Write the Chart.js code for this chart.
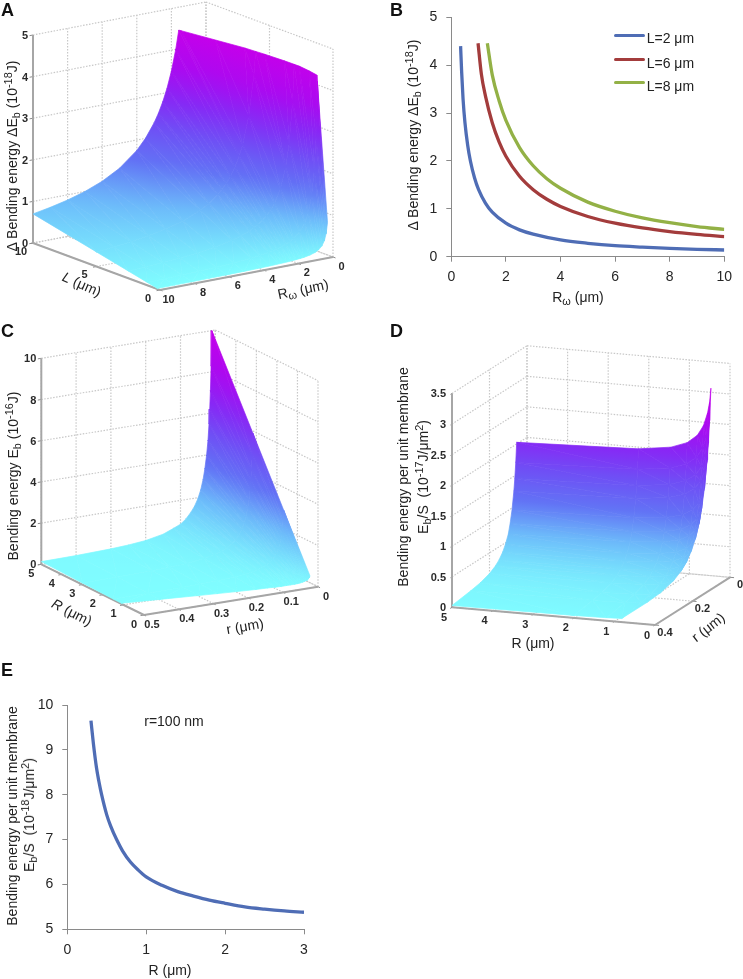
<!DOCTYPE html>
<html><head><meta charset="utf-8">
<script src="https://cdn.jsdelivr.net/npm/chart.js@4"></script>
<style>
html,body{margin:0;padding:0;background:#fff;overflow:hidden}
#page{position:absolute;left:0;top:0;width:743px;height:979px;background:#fff;filter:blur(.35px);font-family:"Liberation Sans",Arial,sans-serif;color:#222}
canvas{position:absolute}
.t{position:absolute;white-space:nowrap;line-height:1}
.t sub,.t sup{font-size:.78em;line-height:0}
.t sub{vertical-align:-.25em}.t sup{vertical-align:.45em}
.tick{font-weight:bold;font-size:11px;color:#2a2a2a}
.ttl{font-size:14px}
.letter{font-weight:bold;font-size:18px;color:#111}
</style></head><body><div id="page"></div>
<script>
/* ---------- Panel B ---------- */
const bR2=[.34,.38,.43,.5,.6,.7,.85,1,1.25,1.5,2,2.5,3,4,5,6,7,8,9,10];
const bE2=[4.4,3.85,3.3,2.8,2.33,2,1.65,1.4,1.12,.93,.7,.56,.47,.35,.28,.23,.2,.175,.155,.14];
const bR6=[.98,1.1,1.25,1.5,1.75,2,2.5,3,3.5,4,5,6,7,8,9,10];
const bE6=[4.46,3.82,3.36,2.8,2.4,2.1,1.68,1.4,1.2,1.05,.84,.7,.6,.525,.467,.42];
const bR8=[1.32,1.5,1.75,2,2.5,3,3.5,4,5,6,7,8,9,10];
const bE8=[4.46,3.8,3.26,2.85,2.28,1.9,1.63,1.43,1.14,.95,.81,.71,.63,.57];
const bLegend=["L=2 μm","L=6 μm","L=8 μm"];
/* ---------- Panel E ---------- */
const eR=[.3,.33,.37,.4,.435,.5,.55,.625,.7,.8,.9,1,1.2,1.4,1.6,1.8,2,2.25,2.5,2.75,3];
const eE=[9.65,9.15,8.6,8.3,8,7.55,7.3,7,6.75,6.5,6.32,6.17,5.98,5.84,5.74,5.65,5.58,5.5,5.45,5.41,5.38];
/* ---------- Panel A: surface, per Rω column, over aL rows ---------- */
const aRw=[10,9,8,7,6,5,4,3.5,3,2.75,2.5,2.25,2,1.75,1.55,1.2,.9,.7,.5,.35,.25,.17];
const aTop=[4.45,4.45,4.45,4.45,4.45,4.45,4.45,4.45,4.45,4.45,4.45,4.45,4.45,4.45,4.45,4.45,4.45,4.43,4.4,4.37,4.32,4.27];
const aL=[.2,1,2.5,5,10];
const aE=[[.014,.07,.175,.35,.7],[.016,.078,.194,.389,.778],[.018,.088,.219,.438,.875],[.02,.1,.25,.5,1],[.023,.117,.292,.583,1.167],[.028,.14,.35,.7,1.4],
[.035,.175,.438,.875,1.75],[.04,.2,.5,1,2],[.047,.233,.583,1.167,2.333],[.051,.255,.636,1.273,2.545],[.056,.28,.7,1.4,2.8],[.062,.311,.778,1.556,3.111],[.07,.35,.875,1.75,3.5],[.08,.4,1,2,4],
[.09,.452,1.129,2.258,4.516],[.117,.583,1.458,2.917,5.833],[.156,.778,1.944,3.889,7.778],[.2,1,2.5,5,10],
[.28,1.4,3.5,7,14],[.4,2,5,10,20],[.56,2.8,7,14,28],[.82,4.12,10.3,20.6,41.2]];
const aZTicks=[0,1,2,3,4,5], aLTicks=[0,5,10], aRTicks=[10,8,6,4,2,0];
/* ---------- Panel C: surface, per r column, over cR rows ---------- */
const cr=[.5,.4,.3,.25,.2,.15,.12,.1,.085,.07,.06,.05,.042,.035,.03,.025,.021,.018,.016,.014,.012,.01];
const cRmin=[1.1,.92,.74,.65,.56,.47,.42,.38,.35,.33,.31,.29,.275,.26,.255,.245,.24,.23,.23,.225,.22,.22];
const cR=[0,1.5,3,5];
const cE=[[.03,.04,.08,.13],[.03,.045,.09,.15],[.03,.06,.12,.2],[.033,.075,.15,.25],[.037,.1,.2,.33],[.047,.15,.3,.5],[.059,.21,.42,.7],[.065,.255,.51,.85],
[.074,.315,.63,1.05],[.09,.405,.81,1.35],[.099,.48,.96,1.6],[.113,.585,1.17,1.95],[.129,.705,1.41,2.35],[.148,.855,1.71,2.85],[.171,1.005,2.01,3.35],[.196,1.2,2.4,4],[.226,1.41,2.82,4.7],[.253,1.65,3.3,5.5],[.285,1.86,3.72,6.2],[.32,2.13,4.26,7.1],[.365,2.49,4.98,8.3],[.44,3,6,10]];
const cZTicks=[0,2,4,6,8,10], cRTicks=[0,1,2,3,4,5], crTicks=[.5,.4,.3,.2,.1,0];
/* ---------- Panel D: surface, per r column, over dR rows ---------- */
const dr=[.4,.3,.25,.2,.17,.15,.13,.115,.1,.09,.08,.07,.065,.06,.055];
const dRmin=[.82,.645,.56,.47,.42,.38,.35,.32,.295,.28,.26,.24,.235,.225,.216];
const dR=[0,.25,.3,.4,.55,.8,1.2,2,5];
const dE=[[.06,.06,.06,.06,.06,.06,.05,.04,.03],
[.143,.143,.143,.143,.143,.126,.104,.088,.075],
[.201,.201,.201,.201,.201,.165,.14,.122,.106],
[.305,.305,.305,.305,.279,.234,.204,.182,.162],
[.409,.409,.409,.409,.356,.305,.27,.244,.222],
[.519,.519,.519,.505,.432,.376,.338,.308,.283],
[.668,.668,.668,.623,.543,.48,.436,.402,.374],
[.84,.84,.84,.753,.664,.594,.545,.508,.475],
[1.076,1.076,1.066,.938,.838,.76,.704,.662,.61],
[1.293,1.293,1.251,1.111,1.003,.917,.855,.809,.768],
[1.604,1.604,1.504,1.35,1.23,1.134,1.066,1.014,.968],
[2.045,2.007,1.863,1.691,1.557,1.449,1.372,1.312,1.26],
[2.314,2.254,2.1,1.918,1.775,1.659,1.577,1.513,1.456],
[2.674,2.563,2.4,2.205,2.051,1.927,1.838,1.769,1.708],
[3.19,2.95,2.776,2.566,2.4,2.265,2.168,2.094,2.027]];
const dZTicks=[0,.5,1,1.5,2,2.5,3,3.5], dRTicks=[5,4,3,2,1,0], drTicks=[.4,.2,0];

/* colours */
const coolStops=[[0,[128,255,255]],[.2,[108,185,250]],[.35,[98,115,245]],[.5,[110,80,245]],[.65,[135,40,245]],[.8,[170,10,240]],[1,[196,0,235]]];
const gridColor='#c8c8c8', axisColor='#a6a6a6', axisColor2='#8c8c8c';
const page=document.getElementById('page');

function cool(t){t=Math.max(0,Math.min(1,t));
 for(let i=1;i<coolStops.length;i++){if(t<=coolStops[i][0]){const [t0,c0]=coolStops[i-1],[t1,c1]=coolStops[i],f=(t-t0)/(t1-t0);
  return 'rgb('+c0.map((c,k)=>Math.round(c+(c1[k]-c)*f)).join(',')+')';}}
 return 'rgb(196,0,235)';}
function label(html,x,y,o={}){const d=document.createElement('div');d.className='t '+(o.cls||'');d.innerHTML=html;
 d.style.left=x+'px';d.style.top=y+'px';
 d.style.transform='translate('+(o.ax==null?-50:o.ax)+'%,-50%) rotate('+(o.rot||0)+'deg)';
 page.appendChild(d);return d;}
function makeCanvas(r){const c=document.createElement('canvas');c.width=r[2];c.height=r[3];c.style.left=r[0]+'px';c.style.top=r[1]+'px';c.style.width=r[2]+'px';c.style.height=r[3]+'px';page.appendChild(c);return c;}

/* 3D panel */
function panel3D(p){
 const c=makeCanvas(p.rect), g=c.getContext('2d');
 const U=a=>(a-p.aNear)/(p.aLeft-p.aNear), V=b=>(b-p.bNear)/(p.bRight-p.bNear);
 const scr=(u,v,z)=>({x:p.near[0]+u*(p.left[0]-p.near[0])+v*(p.right[0]-p.near[0]),
                      y:p.near[1]+u*(p.left[1]-p.near[1])+v*(p.right[1]-p.near[1])-z*p.zPx});
 const ds=[];
 const seg=(A,B,col,w,dash,order)=>ds.push({data:[A,B],showLine:true,borderColor:col,borderWidth:w,borderDash:dash||[],pointRadius:0,fill:false,order:order});
 const dot=[1.5,1.5], zTop=p.zTicks[p.zTicks.length-1];
 p.zTicks.forEach(z=>{seg(scr(1,0,z),scr(1,1,z),gridColor,1.2,dot,6);seg(scr(1,1,z),scr(0,1,z),gridColor,1.2,dot,6);});
 p.bTicks.forEach(b=>{const v=V(b);seg(scr(1,v,0),scr(1,v,zTop),gridColor,1.2,dot,6);seg(scr(0,v,0),scr(1,v,0),gridColor,1.2,dot,6);});
 p.aTicks.forEach(a=>{const u=U(a);seg(scr(u,1,0),scr(u,1,zTop),gridColor,1.2,dot,6);seg(scr(u,0,0),scr(u,1,0),gridColor,1.2,dot,6);});
 seg(scr(1,0,0),scr(1,0,zTop),axisColor,2,null,4);
 seg(scr(0,0,0),scr(1,0,0),axisColor,2,null,4);
 seg(scr(0,0,0),scr(0,1,0),axisColor,2,null,4);
 p.zTicks.forEach(z=>seg(scr(1,0,z),scr(1,-.02,z),axisColor2,1,null,4));
 p.aTicks.forEach(a=>seg(scr(U(a),0,0),scr(U(a),-.02,0),axisColor2,1,null,4));
 p.bTicks.forEach(b=>seg(scr(0,V(b),0),scr(-.02,V(b),0),axisColor2,1,null,4));
 /* surface: each table cell is drawn as triangles, each painted by its exact height plane */
 const vert=(i,j)=>({a:Math.max(p.rows[j],p.aMin?p.aMin[i]:p.rows[j]),b:p.cols[i],z:p.Z[i][j],cap:p.capCols?p.capCols[i]:p.cap});
 const lerp=(P,Q,f)=>({a:P.a+(Q.a-P.a)*f,b:P.b+(Q.b-P.b)*f,z:P.z+(Q.z-P.z)*f,cap:P.cap+(Q.cap-P.cap)*f});
 function clipCap(poly){const out=[];for(let k=0;k<poly.length;k++){const P=poly[k],Q=poly[(k+1)%poly.length];
   const dp=P.z-P.cap,dq=Q.z-Q.cap;
   if(dp<=0)out.push(P);
   if((dp<=0)!==(dq<=0))out.push(lerp(P,Q,dp/(dp-dq)));}
  return out;}
 const ox=p.rect[0],oy=p.rect[1];
 function tri(A,B,C){
  const x1=B.x-A.x,y1=B.y-A.y,z1=B.z-A.z,x2=C.x-A.x,y2=C.y-A.y,z2=C.z-A.z,det=x1*y2-x2*y1;
  if(Math.abs(det)<.02)return;
  const ga=(z1*y2-z2*y1)/det,gb=(x1*z2-x2*z1)/det,g2=ga*ga+gb*gb;
  const zmin=Math.min(A.z,B.z,C.z),zmax=Math.max(A.z,B.z,C.z);
  let paint=cool((zmin+zmax)/2/p.cap);
  if(g2>1e-12&&zmax-zmin>1e-6){
   const lg=g.createLinearGradient(A.x+(zmin-A.z)*ga/g2-ox,A.y+(zmin-A.z)*gb/g2-oy,A.x+(zmax-A.z)*ga/g2-ox,A.y+(zmax-A.z)*gb/g2-oy);
   for(let s=0;s<=6;s++)lg.addColorStop(s/6,cool((zmin+(zmax-zmin)*s/6)/p.cap));
   paint=lg;
  }
  ds.push({data:[A,B,C,A].map(q=>({x:q.x,y:q.y})),showLine:true,tension:0,fill:'shape',backgroundColor:paint,borderColor:paint,borderWidth:.7,pointRadius:0,order:1});
 }
 for(let i=0;i+1<p.cols.length;i++)for(let j=0;j+1<p.rows.length;j++){
  const poly=clipCap([vert(i,j),vert(i+1,j),vert(i+1,j+1),vert(i,j+1)]);
  if(poly.length<3)continue;
  const pts=poly.map(q=>Object.assign(scr(U(q.a),V(q.b),q.z),{z:q.z}));
  for(let k=1;k+1<pts.length;k++)tri(pts[0],pts[k],pts[k+1]);
 }
 new Chart(c,{type:'scatter',data:{datasets:ds},options:{responsive:false,animation:false,events:[],
  layout:{padding:0},plugins:{legend:{display:false},tooltip:{enabled:false}},
  scales:{x:{type:'linear',display:false,min:p.rect[0],max:p.rect[0]+p.rect[2]},y:{type:'linear',display:false,min:p.rect[1],max:p.rect[1]+p.rect[3],reverse:true}}}});
 /* tick labels */
 p.zTicks.forEach(z=>{const s=scr(1,0,z);label(String(z),s.x+p.zOff,s.y,{cls:'tick',ax:-100});});
 p.aTicks.forEach(a=>{const s=scr(U(a),0,0);label(String(a),s.x+p.aOff[0],s.y+p.aOff[1],{cls:'tick'});});
 p.bTicks.forEach(b=>{const s=scr(0,V(b),0);label(String(b),s.x+p.bOff[0],s.y+p.bOff[1],{cls:'tick'});});
}

panel3D({rect:[0,0,370,320],near:[160,290],left:[33,243],right:[333,257],zPx:41.6,aNear:0,aLeft:10,bNear:10,bRight:0,
 cols:aRw,rows:aL,Z:aE,cap:4.45,capCols:aTop,zTicks:aZTicks,aTicks:aLTicks,bTicks:aRTicks,zOff:-5,aOff:[-12,7.5],bOff:[8.5,8.5]});
panel3D({rect:[0,320,370,320],near:[144,615],left:[41.3,564.3],right:[318,586.7],zPx:20.6,aNear:0,aLeft:5,bNear:.5,bRight:0,
 cols:cr,rows:cR,aMin:cRmin,Z:cE,cap:10,zTicks:cZTicks,aTicks:cRTicks,bTicks:crTicks,zOff:-5,aOff:[-10,8.5],bOff:[8,9]});
panel3D({rect:[370,320,373,320],near:[655,625],left:[452,607.3],right:[730,577.3],zPx:61.1,aNear:0,aLeft:5,bNear:.4,bRight:0,
 cols:dr,rows:dR,aMin:dRmin,Z:dE,cap:3.2,zTicks:dZTicks,aTicks:dRTicks,bTicks:drTicks,zOff:-6,aOff:[-8,9.5],bOff:[10,6.5]});

/* 2D panels */
function panel2D(r,area,series,xo,yo){
 const c=makeCanvas(r);
 const right=r[0]+r[2]-area[1],top=area[2]-r[1],left=area[0]-r[0],botH=r[1]+r[3]-area[3];
 const axis=o=>({type:'linear',min:o.min,max:o.max,grid:{display:true,drawOnChartArea:false,drawTicks:true,tickLength:5,tickColor:'#8a8a8a'},
   border:{color:'#8a8a8a',width:1},ticks:{stepSize:o.step,color:'#262626',font:{family:'"Liberation Sans"',size:14},padding:o.pad,autoSkip:false,maxRotation:0}});
 new Chart(c,{type:'scatter',data:{datasets:series.map(s=>({data:s.x.map((v,i)=>({x:v,y:s.y[i]})),showLine:true,borderColor:s.color,borderWidth:3.3,
   pointRadius:0,cubicInterpolationMode:'monotone',fill:false,borderCapStyle:'butt'}))},
  options:{responsive:false,animation:false,events:[],layout:{padding:{left:0,bottom:0,top:top,right:right}},
   plugins:{legend:{display:false},tooltip:{enabled:false}},
   scales:{x:Object.assign(axis(xo),{afterFit:s=>{s.height=botH;}}),y:Object.assign(axis(yo),{afterFit:s=>{s.width=left;}})}}});
}
panel2D([370,0,373,320],[451.3,724.3,14,256.7],[{x:bR2,y:bE2,color:'#4f6db5'},{x:bR6,y:bE6,color:'#a33c3c'},{x:bR8,y:bE8,color:'#93b146'}],
 {min:0,max:10,step:2,pad:7},{min:0,max:5,step:1,pad:9});
panel2D([0,650,370,329],[67.3,304,705,929.3],[{x:eR,y:eE,color:'#4f6db5'}],{min:0,max:3,step:1,pad:7},{min:5,max:10,step:1,pad:9});
</script>
<script>
/* Text */
const L=(t,x,y)=>label(t,x,y,{cls:'letter',ax:0});
L('A',1,10);L('B',390,9.5);L('C',1,331);L('D',390,331);L('E',1,670);
const T=(t,x,y,rot,o={})=>label(t,x,y,Object.assign({cls:'ttl',rot:rot},o));
T('Δ Bending energy ΔE<sub>b</sub> (10<sup>-18</sup>J)',12,156,-90);
T('<i>L</i> (μm)',82,284,24);
T('R<sub>ω</sub> (μm)',303,289,-12);
T('Δ Bending energy ΔE<sub>b</sub> (10<sup>-18</sup>J)',413,135,-90);
T('R<sub>ω</sub> (μm)',578,297,0);
T('Bending energy E<sub>b</sub> (10<sup>-16</sup>J)',13,476,-90);
T('<i>R</i> (μm)',72,612,27);
T('r (μm)',245,626,-10);
T('Bending energy per unit membrane',403,477,-90);
T('E<sub>b</sub>/S &nbsp;(10<sup>-17</sup>J/μm<sup>2</sup>)',423,477,-90);
T('R (μm)',533,643,0);
T('r (μm)',708,627,-38);
T('Bending energy per unit membrane',12,816,-90);
T('E<sub>b</sub>/S &nbsp;(10<sup>-18</sup>J/μm<sup>2</sup>)',29,815,-90);
T('R (μm)',170,970,0);
T('r=100 nm',174,721,0);
/* legend of B */
[[35.7,38.3],[59.3,62.7],[82,85.7]].forEach((p,i)=>{
 const d=document.createElement('div');d.style.cssText='position:absolute;left:614px;width:31px;height:3px;border-radius:1.5px;top:'+(p[0]-1.5)+'px;background:'+['#4f6db5','#a33c3c','#93b146'][i];
 page.appendChild(d);
 label(bLegend[i],646.7,p[1],{cls:'ttl',ax:0});
});
</script>
</body></html>
